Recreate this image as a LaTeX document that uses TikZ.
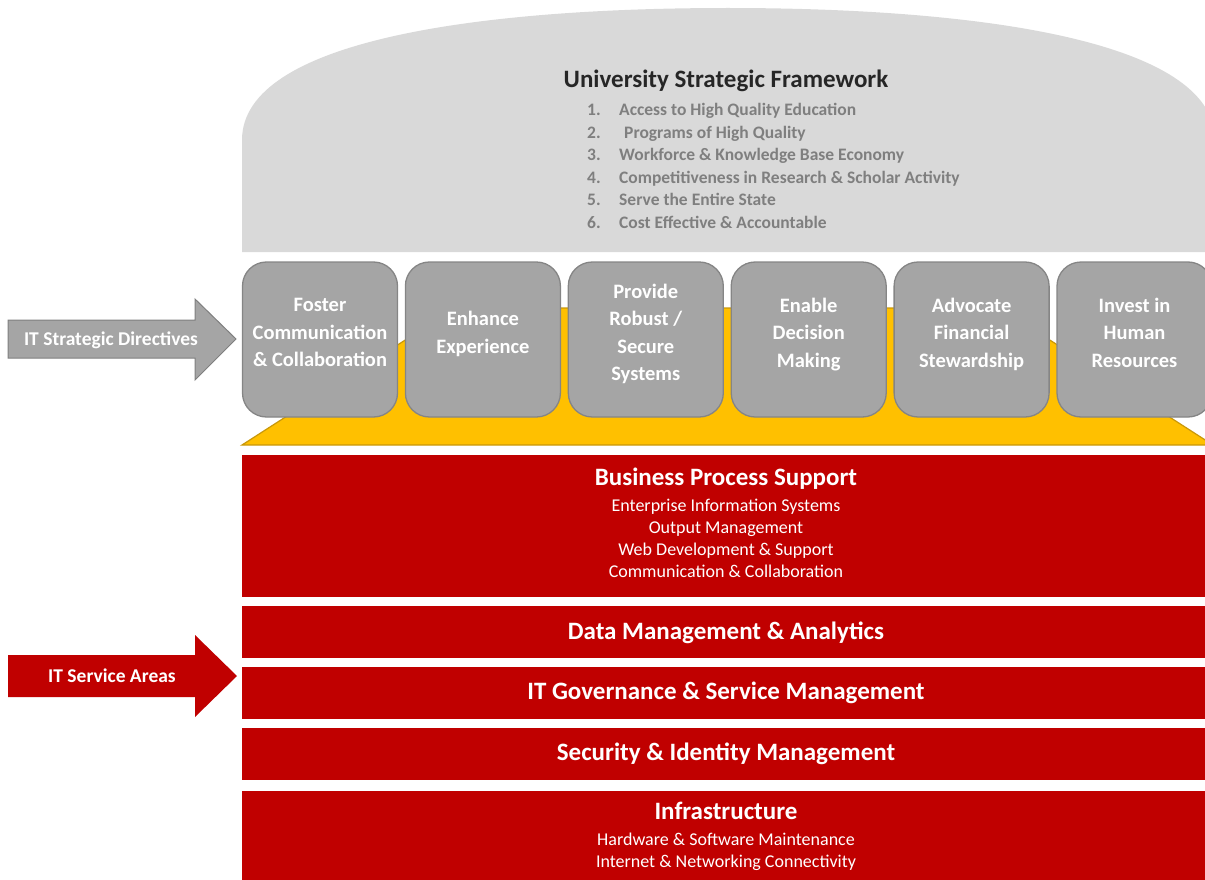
\documentclass[tikz,border=0pt]{standalone}
\usepackage{fontspec}
\setmainfont{Carlito}
\usetikzlibrary{positioning}

\definecolor{domegray}{HTML}{D9D9D9}
\definecolor{titlegray}{HTML}{262626}
\definecolor{listgray}{HTML}{7F7F7F}
\definecolor{boxgray}{HTML}{A5A5A5}
\definecolor{boxedge}{HTML}{858585}
\definecolor{gold}{HTML}{FFC000}
\definecolor{goldedge}{HTML}{C9980A}
\definecolor{areared}{HTML}{C00000}

\newcommand{\areatitle}{\fontsize{25}{30}\selectfont\bfseries}
\newcommand{\num}[1]{\makebox[32pt][l]{#1}}

\begin{document}
\begin{tikzpicture}[
			x=1pt, y=-1pt,
			node distance=6.6pt,
			directive/.style={draw=boxedge, fill=boxgray, line width=1.3pt,
				rounded corners=24pt, minimum width=155pt, minimum height=155pt,
				inner sep=0pt, align=center, text=white,
				font=\fontsize{20.5}{27.5}\selectfont\bfseries,
				execute at end node={\rule[-14pt]{0pt}{0pt}}},
			area/.style={fill=areared, minimum width=968pt, inner sep=0pt,
				align=center, text=white, font=\fontsize{18}{22}\selectfont},
			arrowlabel/.style={text=white, font=\fontsize{19.5}{23}\selectfont\bfseries}
			]
			\useasboundingbox (0,0) rectangle (1205,880);
			\clip (0,0) rectangle (1205,880);

			% framework dome
			\fill[domegray] (242,252) -- (242,140) .. controls (242,40) and (480,8) .. (728,8)
				.. controls (976,8) and (1215,40) .. (1215,140) -- (1215,252) -- cycle;
			\node[text=titlegray, font=\fontsize{25}{30}\selectfont\bfseries] (fwtitle) at (726,81) {University Strategic Framework};
			\node[anchor=north west, inner sep=0pt, align=left, text=listgray,
				font=\fontsize{17.5}{22.6}\selectfont\bfseries] (fwlist) at (587,103) {
				\num{1.}Access to High Quality Education\\
				\num{2.}\hspace{5pt}Programs of High Quality\\
				\num{3.}Workforce \& Knowledge Base Economy\\
				\num{4.}Competitiveness in Research \& Scholar Activity\\
				\num{5.}Serve the Entire State\\
				\num{6.}Cost Effective \& Accountable};

			% directives
			\draw[fill=gold, draw=goldedge, line width=1.2pt] (242,445) -- (455,308) -- (1000,308) -- (1213,445) -- cycle;
			\node[directive] (d1) at (320,339.5) {Foster\\Communication\\\& Collaboration};
			\node[directive, right=of d1] (d2) {Enhance\\Experience};
			\node[directive, right=of d2] (d3) {Provide\\Robust /\\Secure\\Systems};
			\node[directive, right=of d3] (d4) {Enable\\Decision\\Making};
			\node[directive, right=of d4] (d5) {Advocate\\Financial\\Stewardship};
			\node[directive, right=of d5] (d6) {Invest in\\Human\\Resources};

			\draw[fill=boxgray, draw=listgray, line width=1pt] (8,320) -- (195,320) -- (195,299) -- (236,339)
				-- (195,380) -- (195,358) -- (8,358) -- cycle;
			\node[arrowlabel] (dirtext) at (111,340) {IT Strategic Directives};

			% service areas
			\node[area, minimum height=142pt] (a1) at (726,526) {{\areatitle Business Process Support}\\[4pt]
				Enterprise Information Systems\\Output Management\\Web Development \& Support\\Communication \& Collaboration\rule[-7pt]{0pt}{0pt}};
			\node[area, minimum height=52pt, below=9pt of a1] (a2) {\areatitle Data Management \& Analytics};
			\node[area, minimum height=52pt, below=8pt of a2] (a3) {\areatitle IT Governance \& Service Management};
			\node[area, minimum height=52pt, below=9pt of a3] (a4) {\areatitle Security \& Identity Management};
			\node[area, minimum height=92pt, below=10pt of a4] (a5) {{\areatitle Infrastructure}\\[4pt]
				Hardware \& Software Maintenance\\Internet \& Networking Connectivity};

			\fill[areared] (8,655) -- (195,655) -- (195,635) -- (237,676) -- (195,717) -- (195,697) -- (8,697) -- cycle;
			\node[arrowlabel] (areatext) at (112,676) {IT Service Areas};
		\end{tikzpicture}
\end{document}
